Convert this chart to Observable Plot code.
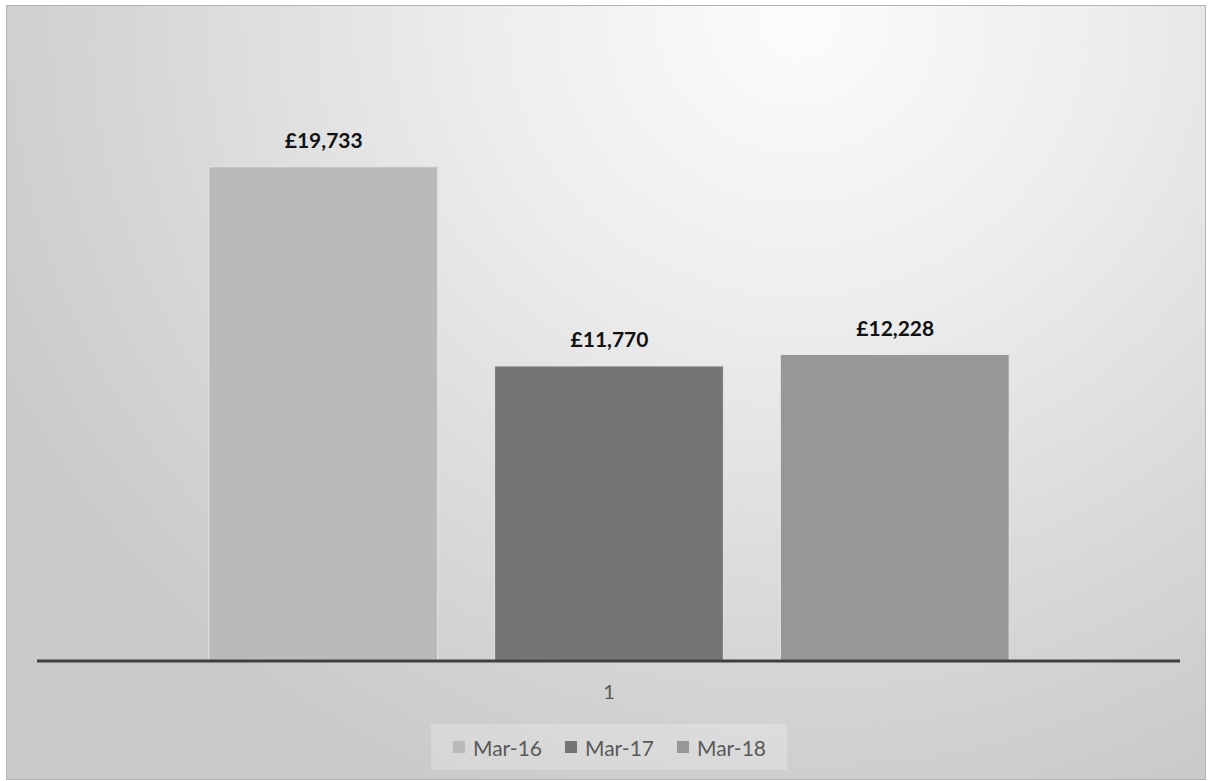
<!DOCTYPE html>
<html>
<head>
<meta charset="utf-8">
<script src="https://cdn.jsdelivr.net/npm/d3@7"></script>
<script src="https://cdn.jsdelivr.net/npm/@observablehq/plot@0.6"></script>
<style>
  html, body { margin: 0; padding: 0; background: #ffffff; }
  #frame {
    position: absolute; left: 6px; top: 5px; width: 1200px; height: 775px;
    box-sizing: border-box; border: 1px solid #b5b5b5;
    background: radial-gradient(ellipse 75% 110% at 66% 2%, #fcfcfc 0%, #ededed 35%, #d6d6d6 75%, #c9c9c9 100%);
    font-family: Lato, "Open Sans", sans-serif;
  }
  #chart { position: absolute; left: -1px; top: -1px; }
  #legend {
    position: absolute; left: 424px; top: 718px; width: 356px; height: 46px;
    background: rgba(255,255,255,0.22);
    display: flex; align-items: center; justify-content: center; gap: 22px;
    font-size: 21px; color: #595959;
  }
  .item { display: flex; align-items: center; gap: 7px; }
  .sw { width: 12px; height: 12px; border: 1px solid #d8d8d8; }
</style>
</head>
<body>
<div id="frame">
  <div id="chart"></div>
  <div id="legend"></div>
</div>
<script>
const categories = ["1"];
const series = ["Mar-16", "Mar-17", "Mar-18"];
const values = [19733, 11770, 12228];
const colors = ["#bababa", "#757575", "#979797"];

const data = series.map((s, i) => ({cat: categories[0], series: s, value: values[i]}));
const fmt = v => "£" + d3.format(",")(v);

const chart = Plot.plot({
  width: 1200,
  height: 710,
  marginTop: 30,
  marginBottom: 54,
  marginLeft: 31,
  marginRight: 25,
  style: {background: "transparent", fontFamily: "Lato, 'Open Sans', sans-serif", fontSize: "20px", color: "#595959"},
  fx: {domain: categories, axis: "bottom", label: null, tickSize: 0, tickPadding: 24, padding: 0},
  x: {domain: series, axis: null, paddingInner: 0.2, paddingOuter: 0.6},
  y: {domain: [0, 25000], axis: null},
  color: {domain: series, range: colors},
  marks: [
    Plot.barY(data, {fx: "cat", x: "series", y: "value", fill: "series", stroke: "#e4e4e4", strokeWidth: 1}),
    Plot.text(data, {fx: "cat", x: "series", y: "value", text: d => fmt(d.value), dy: -26, fontSize: 21, fontWeight: "bold", fill: "#111111"}),
    Plot.ruleY([0], {stroke: "#404040", strokeWidth: 3})
  ]
});
document.getElementById("chart").appendChild(chart);

const legend = document.getElementById("legend");
series.forEach((s, i) => {
  const it = document.createElement("div");
  it.className = "item";
  it.innerHTML = `<span class="sw" style="background:${colors[i]}"></span><span>${s}</span>`;
  legend.appendChild(it);
});
</script>
</body>
</html>
